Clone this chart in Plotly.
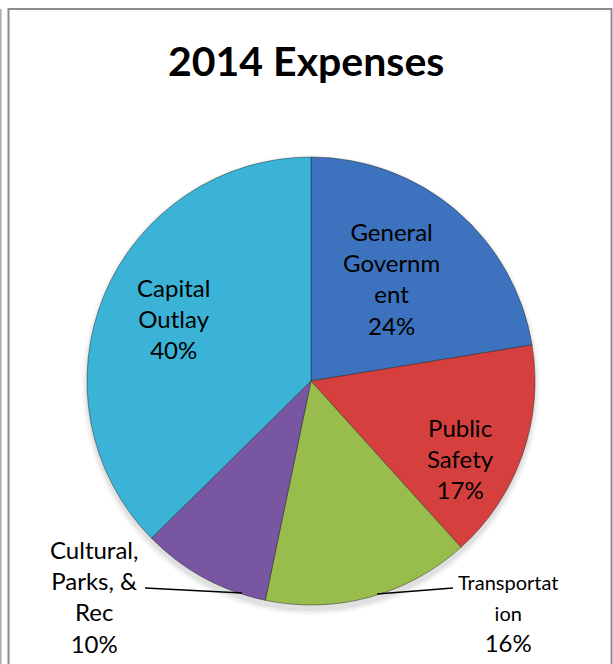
import plotly.graph_objects as go

W, H = 613, 664

# Expense categories, in clockwise order starting at 12 o'clock
categories = ["General Government", "Public Safety", "Transportation",
              "Cultural, Parks, & Rec", "Capital Outlay"]
values = [24, 17, 16, 10, 40]  # percent of 2014 expenses
label_lines = ["General<br>Governm<br>ent", "Public<br>Safety", "Transportat<br>ion",
               "Cultural,<br>Parks, &<br>Rec", "Capital<br>Outlay"]
colors = ["#3D72BE", "#D5403E", "#98BD4C", "#7956A2", "#3AB3D6"]

# pie geometry in pixels
cx, cy, r = 311, 381, 224


def px(x):
    return x / W


def py(y):
    return 1 - y / H


fig = go.Figure(go.Pie(
    labels=categories,
    values=values,
    sort=False,
    direction="clockwise",
    rotation=0,
    textinfo="none",
    hovertemplate="%{label}: %{value}%<extra></extra>",
    marker=dict(colors=colors, line=dict(color="rgba(30,30,30,0.45)", width=1)),
    domain=dict(x=[px(cx - r), px(cx + r)], y=[py(cy + r), py(cy - r)]),
    showlegend=False,
))

# data label placement (pixel centre, size of category text)
label_pos = {
    "General Government": (391, 278, 24),
    "Public Safety": (460, 458, 24),
    "Transportation": (508, 613, 20),
    "Cultural, Parks, & Rec": (94, 596, 24),
    "Capital Outlay": (173, 318, 24),
}

annotations = [dict(
    text="<b>2014 Expenses</b>", x=px(306), y=py(60), xref="paper", yref="paper",
    xanchor="center", yanchor="middle", showarrow=False,
    font=dict(family="Lato", size=41, color="#000000"),
)]
for name, lines, v in zip(categories, label_lines, values):
    x, y, s = label_pos[name]
    annotations.append(dict(
        text=f"<span style='font-size:{s}px'>{lines}</span><br>{v}%",
        x=px(x), y=py(y), xref="paper", yref="paper",
        xanchor="center", yanchor="middle", align="center", showarrow=False,
        font=dict(family="Lato", size=24, color="#000000"),
    ))

shapes = []
# soft drop shadow under the pie
for grow, alpha in [(6, 0.03), (4, 0.04), (2, 0.05)]:
    shapes.append(dict(
        type="circle", xref="paper", yref="paper", layer="below",
        x0=px(cx - r - grow + 1), x1=px(cx + r + grow - 1),
        y0=py(cy + 4 + r + grow), y1=py(cy + 4 - r - grow),
        fillcolor=f"rgba(0,0,0,{alpha})", line=dict(width=0),
    ))

shapes += [
    # chart frame
    dict(type="rect", xref="paper", yref="paper", x0=px(8.5), x1=px(611.5),
         y0=py(9), y1=py(700), line=dict(color="#8C8C8C", width=2)),
    dict(type="line", xref="paper", yref="paper", x0=px(0.8), x1=px(0.8),
         y0=py(9), y1=py(700), line=dict(color="#A8A8A8", width=1.5)),
    # leader lines for outside labels
    dict(type="line", xref="paper", yref="paper", x0=px(145), y0=py(588),
         x1=px(242), y1=py(593), line=dict(color="#000000", width=1.3)),
    dict(type="line", xref="paper", yref="paper", x0=px(377), y0=py(594),
         x1=px(453), y1=py(588), line=dict(color="#000000", width=1.3)),
]

fig.update_layout(
    width=W, height=H, autosize=False,
    margin=dict(l=0, r=0, t=0, b=0),
    paper_bgcolor="#FFFFFF", plot_bgcolor="#FFFFFF",
    annotations=annotations, shapes=shapes,
)

fig.write_html("out.html")
